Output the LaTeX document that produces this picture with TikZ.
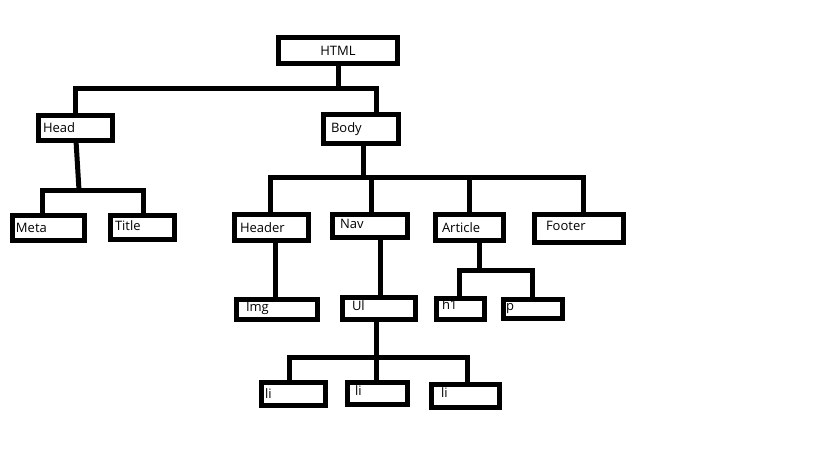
\documentclass[tikz,border=0pt]{standalone}
\usepackage{fontspec}
\setmainfont{Open Sans}
\begin{document}
\begin{tikzpicture}[x=1pt,y=-1pt,
  box/.style={draw=black, line width=5pt, rectangle, inner sep=0pt, outer sep=0pt, anchor=north west},
  conn/.style={draw=black, line width=5pt, line join=miter},
  txt/.style={anchor=west, inner sep=0pt, outer sep=0pt, font=\fontsize{13}{15}\selectfont}]
\fill[white] (0,0) rectangle (819,460);
\path[use as bounding box] (0,0) rectangle (819,460);
% boxes
\node[box, minimum width=119pt, minimum height=26pt, font=\fontsize{13}{15}\selectfont] (html) at (278.5,37.5) {HTML};
\node[box, minimum width=74pt, minimum height=25pt, label={[txt, xshift=4.5pt]west:Head}] (head) at (38.5,115.5) {};
\node[box, minimum width=75pt, minimum height=29pt, label={[txt, xshift=7.5pt]west:Body}] (body) at (323.5,114.5) {};
\node[box, minimum width=72pt, minimum height=25pt, label={[txt, xshift=3.5pt]west:Meta}] (meta) at (12.5,215.5) {};
\node[box, minimum width=64pt, minimum height=24pt, label={[txt, xshift=4.5pt, yshift=1.5pt]west:Title}] (title) at (110.5,215.5) {};
\node[box, minimum width=74pt, minimum height=26pt, label={[txt, xshift=5.5pt]west:Header}] (header) at (234.5,214.5) {};
\node[box, minimum width=75pt, minimum height=23pt, label={[txt, xshift=7.5pt, yshift=2pt]west:Nav}] (nav) at (332.5,214.5) {};
\node[box, minimum width=68pt, minimum height=26pt, label={[txt, xshift=6.5pt]west:Article}] (article) at (435.5,214.5) {};
\node[box, minimum width=89pt, minimum height=28pt, label={[txt, xshift=11.5pt, yshift=3pt]west:Footer}] (footer) at (534.5,214.5) {};
\node[box, minimum width=81pt, minimum height=20pt, label={[txt, xshift=9.5pt, yshift=1pt]west:Img}] (img) at (236.5,299.5) {};
\node[box, minimum width=73pt, minimum height=22pt, label={[txt, xshift=9.5pt, yshift=3pt]west:Ul}] (ul) at (342.5,297.5) {};
\node[box, minimum width=48pt, minimum height=21pt, label={[txt, xshift=5.5pt, yshift=4pt]west:h1}] (h1) at (436.5,298.5) {};
\node[box, minimum width=59pt, minimum height=19pt, label={[txt, xshift=2.5pt]west:p}] (p) at (503.5,299.5) {};
\node[box, minimum width=64pt, minimum height=23pt, label={[txt, xshift=3.5pt]west:li}] (li1) at (261.5,382.5) {};
\node[box, minimum width=60pt, minimum height=22pt, label={[txt, xshift=7.5pt, yshift=3pt]west:li}] (li2) at (347.5,382.5) {};
\node[box, minimum width=68pt, minimum height=23pt, label={[txt, xshift=9.5pt, yshift=3pt]west:li}] (li3) at (431.5,384.5) {};
% junction coordinates
\coordinate (hb) at (75,88);
\coordinate (bb) at (376,88);
\coordinate (hj) at (79,190);
\coordinate (hs) at (76,0);
\coordinate (mb) at (42,190);
\coordinate (tb) at (143,190);
\coordinate (bj) at (363,177);
\coordinate (b1) at (270,177);
\coordinate (b2) at (371,177);
\coordinate (b3) at (469,177);
\coordinate (b4) at (583,177);
\coordinate (aj) at (479,270);
\coordinate (a1) at (459,270);
\coordinate (a2) at (532,270);
\coordinate (uj) at (376,357);
\coordinate (u1) at (289,357);
\coordinate (u3) at (467,357);
\coordinate (hx) at (275,0);
\coordinate (nx) at (380,0);
% connectors
\draw[conn] (html.south) -- (html.south |- hb);
\draw[conn] (head.north -| hb) -- (hb) -- (bb) -- (body.north -| bb);
\draw[conn] (head.south -| hs) -- (hj);
\draw[conn] (meta.north -| mb) -- (mb) -- (tb) -- (title.north -| tb);
\draw[conn] (body.south -| bj) -- (bj);
\draw[conn] (header.north -| b1) -- (b1) -- (b4) -- (footer.north -| b4);
\draw[conn] (b2) -- (nav.north -| b2);
\draw[conn] (b3) -- (article.north -| b3);
\draw[conn] (header.south -| hx) -- (img.north -| hx);
\draw[conn] (nav.south -| nx) -- (ul.north -| nx);
\draw[conn] (article.south -| aj) -- (aj);
\draw[conn] (h1.north -| a1) -- (a1) -- (a2) -- (p.north -| a2);
\draw[conn] (ul.south -| uj) -- (li2.north -| uj);
\draw[conn] (li1.north -| u1) -- (u1) -- (u3) -- (li3.north -| u3);
\end{tikzpicture}
\end{document}
